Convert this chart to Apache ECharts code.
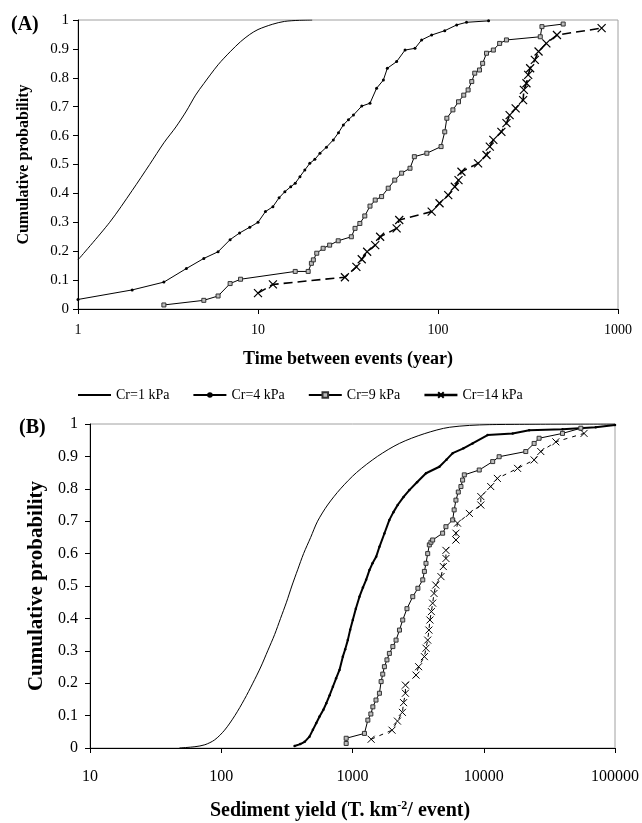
<!DOCTYPE html>
<html>
<head>
<meta charset="utf-8">
<script src="https://cdn.jsdelivr.net/npm/echarts@6/dist/echarts.min.js"></script>
<style>
html,body{margin:0;padding:0;background:#fff;}
#c{width:642px;height:823px;}
</style>
</head>
<body>
<div id="c"></div>
<script>
// ---------- Data (A): Time between events (year) ----------
const seriesNames = ['Cr=1 kPa', 'Cr=4 kPa', 'Cr=9 kPa', 'Cr=14 kPa'];
const yTicks = ['0','0.1','0.2','0.3','0.4','0.5','0.6','0.7','0.8','0.9','1'];

const a1x = [1, 1.5, 2, 2.5, 3, 3.5, 4, 4.5, 5, 6, 7, 8, 9, 10, 12, 14, 17, 20];
const a1y = [0.17, 0.30, 0.41, 0.50, 0.575, 0.63, 0.685, 0.74, 0.78, 0.845, 0.89, 0.925, 0.95, 0.967, 0.985, 0.995, 0.999, 1.0];

const a4x = [1, 2, 3, 4, 5, 6, 7, 7.9, 9, 10, 11, 12.1, 13.1, 14.1, 15.2, 16.1, 17.1, 18.2, 19.4, 20.7, 22.1, 24, 26.2, 28, 29.8, 31.8, 33.9, 37.7, 41.9, 45.6, 49.7, 52.3, 58.9, 65.6, 74.5, 81.1, 92.2, 109, 127, 144, 191];
const a4y = [0.033, 0.066, 0.093, 0.14, 0.175, 0.198, 0.24, 0.263, 0.283, 0.3, 0.337, 0.354, 0.385, 0.406, 0.423, 0.435, 0.458, 0.481, 0.504, 0.518, 0.539, 0.56, 0.585, 0.61, 0.637, 0.655, 0.671, 0.702, 0.712, 0.764, 0.792, 0.833, 0.856, 0.896, 0.902, 0.931, 0.948, 0.963, 0.983, 0.992, 0.997];

const a9x = [3, 5, 6, 7, 8, 16.1, 19, 19.8, 20.3, 21.2, 23, 25, 27.9, 33, 34.6, 36.8, 39.2, 41.9, 44.8, 48.6, 52.9, 57.5, 62.8, 69.9, 73.9, 86.7, 104, 109, 112, 121, 130, 139, 147, 154, 160, 170, 177, 186, 203, 220, 240, 370, 378, 496];
const a9y = [0.014, 0.03, 0.045, 0.088, 0.103, 0.13, 0.13, 0.158, 0.17, 0.193, 0.21, 0.221, 0.236, 0.25, 0.279, 0.296, 0.322, 0.356, 0.377, 0.389, 0.418, 0.446, 0.47, 0.487, 0.527, 0.539, 0.562, 0.613, 0.66, 0.689, 0.717, 0.74, 0.758, 0.787, 0.816, 0.827, 0.85, 0.885, 0.896, 0.919, 0.931, 0.942, 0.977, 0.986];

const a14x = [10, 12.1, 30.4, 35.2, 37.7, 40.4, 44.8, 47.7, 58.9, 60.9, 92.2, 102, 114, 124, 130, 135, 167, 186, 194, 203, 225, 240, 250, 270, 297, 300, 310, 317, 325, 345, 362, 400, 458, 811];
const a14y = [0.055, 0.085, 0.11, 0.146, 0.172, 0.198, 0.221, 0.25, 0.279, 0.308, 0.337, 0.366, 0.394, 0.423, 0.446, 0.475, 0.504, 0.533, 0.562, 0.585, 0.613, 0.643, 0.671, 0.694, 0.723, 0.758, 0.781, 0.81, 0.833, 0.862, 0.891, 0.919, 0.948, 0.972];

// ---------- Data (B): Sediment yield (T km-2 / event) ----------
const b1x = [48, 63, 75, 89, 106, 127, 150, 174, 200, 226, 255, 283, 314, 345, 382, 424, 480, 542, 646, 810, 1072, 1549, 2275, 3520, 5500, 11000, 100000];
const b1y = [0, 0.004, 0.01, 0.025, 0.055, 0.1, 0.15, 0.2, 0.25, 0.3, 0.35, 0.4, 0.45, 0.5, 0.55, 0.6, 0.65, 0.7, 0.75, 0.8, 0.85, 0.9, 0.94, 0.97, 0.99, 0.998, 1.0];

const b4x = [362, 400, 432, 470, 499, 530, 561, 600, 631, 670, 709, 750, 796, 844, 880, 921, 960, 1005, 1060, 1130, 1200, 1270, 1346, 1420, 1514, 1604, 1750, 1910, 2050, 2209, 2450, 2711, 3100, 3630, 4590, 5200, 5800, 7000, 8220, 10700, 16600, 22200, 39800, 71300, 100000];
const b4y = [0.006, 0.012, 0.019, 0.035, 0.056, 0.077, 0.097, 0.118, 0.138, 0.163, 0.189, 0.215, 0.241, 0.282, 0.305, 0.333, 0.365, 0.395, 0.43, 0.467, 0.495, 0.519, 0.549, 0.57, 0.59, 0.621, 0.662, 0.704, 0.728, 0.75, 0.775, 0.796, 0.82, 0.848, 0.868, 0.89, 0.91, 0.925, 0.94, 0.966, 0.971, 0.981, 0.984, 0.99, 0.997];

const b9x = [895, 895, 1233, 1309, 1380, 1429, 1510, 1604, 1652, 1700, 1750, 1830, 1910, 2030, 2147, 2280, 2414, 2600, 2878, 3150, 3430, 3530, 3630, 3740, 3850, 3960, 4080, 4860, 5150, 5800, 5950, 6140, 6400, 6700, 6900, 7110, 9240, 11700, 13100, 20900, 24200, 26400, 39800, 54900];
const b9y = [0.014, 0.03, 0.045, 0.086, 0.105, 0.127, 0.148, 0.169, 0.205, 0.228, 0.251, 0.272, 0.292, 0.313, 0.333, 0.364, 0.395, 0.43, 0.467, 0.493, 0.519, 0.545, 0.57, 0.6, 0.627, 0.635, 0.642, 0.663, 0.683, 0.704, 0.735, 0.765, 0.79, 0.807, 0.827, 0.843, 0.858, 0.884, 0.899, 0.915, 0.94, 0.956, 0.971, 0.987];

const b14x = [1387, 2000, 2200, 2400, 2450, 2530, 2530, 3048, 3190, 3530, 3630, 3740, 3820, 3890, 3990, 4080, 4180, 4310, 4720, 4920, 5150, 5150, 6140, 6140, 6310, 7770, 9500, 9500, 11300, 12700, 18100, 24200, 27200, 35400, 58100];
const b14y = [0.027, 0.055, 0.083, 0.11, 0.14, 0.169, 0.194, 0.225, 0.251, 0.282, 0.308, 0.333, 0.364, 0.395, 0.421, 0.447, 0.477, 0.503, 0.529, 0.56, 0.585, 0.61, 0.642, 0.663, 0.694, 0.724, 0.75, 0.776, 0.807, 0.832, 0.863, 0.889, 0.915, 0.945, 0.971];

function pairs(xs, ys) { return xs.map((x, i) => [x, ys[i]]); }

const FONT = 'Liberation Serif';
const CROSS = 'path://M0,0L10,10M10,0L0,10';

const chart = echarts.init(document.getElementById('c'), null, {renderer: 'canvas'});

function yAxis(gridIndex, name, nameSize, nameGap, labelSize, labelMargin) {
  return {
    gridIndex: gridIndex, type: 'value', min: 0, max: 1, interval: 0.1,
    name: name, nameLocation: 'middle', nameGap: nameGap,
    nameTextStyle: {fontFamily: FONT, fontWeight: 'bold', fontSize: nameSize, color: '#000'},
    axisLine: {show: true, lineStyle: {color: '#000', width: 1}},
    axisTick: {show: true, length: 5, lineStyle: {color: '#000'}},
    axisLabel: {fontFamily: FONT, fontSize: labelSize, color: '#000', margin: labelMargin,
      formatter: v => yTicks[Math.round(v * 10)]},
    splitLine: {show: false}
  };
}
function xAxis(gridIndex, min, max, name, nameSize, nameGap, labelSize, labelMargin) {
  return {
    gridIndex: gridIndex, type: 'log', logBase: 10, min: min, max: max,
    name: name, nameLocation: 'middle', nameGap: nameGap,
    nameTextStyle: {fontFamily: FONT, fontWeight: 'bold', fontSize: nameSize, color: '#000'},
    axisLine: {show: true, lineStyle: {color: '#000', width: 1}},
    axisTick: {show: true, length: 5, lineStyle: {color: '#000'}},
    minorTick: {show: false},
    axisLabel: {fontFamily: FONT, fontSize: labelSize, color: '#000', margin: labelMargin,
      formatter: v => String(Math.round(v))},
    splitLine: {show: false}
  };
}

const option = {
  animation: false,
  backgroundColor: '#fff',
  title: [
    {text: '(A)', left: 6, top: 10, textStyle: {fontFamily: FONT, fontWeight: 'bold', fontSize: 20, color: '#000'}},
    {text: '(B)', left: 14, top: 413, textStyle: {fontFamily: FONT, fontWeight: 'bold', fontSize: 20, color: '#000'}}
  ],
  legend: {
    left: 77, top: 388, padding: 0, itemGap: 23, itemWidth: 33, itemHeight: 7,
    textStyle: {fontFamily: FONT, fontSize: 14, color: '#000'},
    data: [
      {name: seriesNames[0], itemStyle: {opacity: 0}},
      {name: seriesNames[1]},
      {name: seriesNames[2]},
      {name: seriesNames[3], lineStyle: {type: 'solid', width: 2.5}}
    ]
  },
  graphic: [
    {type: 'text', x: 340, y: 811, z: 10,
      style: {
        text: 'Sediment yield (T. km{sup|-2}/ event)',
        align: 'center', verticalAlign: 'middle',
        font: 'bold 20px "Liberation Serif"', fill: '#000',
        rich: {sup: {font: 'bold 12px "Liberation Serif"', fill: '#000', verticalAlign: 'top', padding: [0, 0, 10, 0]}}
      }}
  ],
  grid: [
    {left: 78, top: 20, width: 540, height: 289, show: true, borderColor: '#a0a0a0', borderWidth: 1, backgroundColor: '#fff'},
    {left: 90, top: 424, width: 526, height: 324, show: true, borderColor: '#a0a0a0', borderWidth: 1, backgroundColor: '#fff'}
  ],
  xAxis: [
    xAxis(0, 1, 1000, 'Time between events (year)', 18, 41, 14, 14),
    xAxis(1, 10, 100000, '', 18, 60, 16, 21)
  ],
  yAxis: [
    yAxis(0, 'Cumulative probability', 16, 46, 15, 9),
    yAxis(1, 'Cumulative probability', 21, 43, 16, 12)
  ],
  series: [
    {name: seriesNames[0], type: 'line', xAxisIndex: 0, yAxisIndex: 0, data: pairs(a1x, a1y),
      smooth: 0.3, symbol: 'none', lineStyle: {color: '#000', width: 1}, itemStyle: {color: '#000'}},
    {name: seriesNames[1], type: 'line', xAxisIndex: 0, yAxisIndex: 0, data: pairs(a4x, a4y),
      symbol: 'circle', symbolSize: 3, lineStyle: {color: '#000', width: 1}, itemStyle: {color: '#000'}},
    {name: seriesNames[2], type: 'line', xAxisIndex: 0, yAxisIndex: 0, data: pairs(a9x, a9y),
      symbol: 'rect', symbolSize: 4, lineStyle: {color: '#000', width: 1},
      itemStyle: {color: '#bdbdbd', borderColor: '#333', borderWidth: 1}},
    {name: seriesNames[3], type: 'line', xAxisIndex: 0, yAxisIndex: 0, data: pairs(a14x, a14y),
      symbol: CROSS, symbolSize: 8, lineStyle: {color: '#000', width: 1.6, type: [9, 5]},
      itemStyle: {color: 'none', borderColor: '#000', borderWidth: 1.2}},

    {name: seriesNames[0], type: 'line', xAxisIndex: 1, yAxisIndex: 1, data: pairs(b1x, b1y),
      smooth: 0.3, symbol: 'none', lineStyle: {color: '#000', width: 1}, itemStyle: {color: '#000'}},
    {name: seriesNames[1], type: 'line', xAxisIndex: 1, yAxisIndex: 1, data: pairs(b4x, b4y),
      symbol: 'circle', symbolSize: 2.5, lineStyle: {color: '#000', width: 2}, itemStyle: {color: '#000'}},
    {name: seriesNames[2], type: 'line', xAxisIndex: 1, yAxisIndex: 1, data: pairs(b9x, b9y),
      symbol: 'rect', symbolSize: 4, lineStyle: {color: '#000', width: 1},
      itemStyle: {color: '#bdbdbd', borderColor: '#333', borderWidth: 1}},
    {name: seriesNames[3], type: 'line', xAxisIndex: 1, yAxisIndex: 1, data: pairs(b14x, b14y),
      symbol: CROSS, symbolSize: 7, lineStyle: {color: '#000', width: 1, type: [4, 5]},
      itemStyle: {color: 'none', borderColor: '#000', borderWidth: 1}}
  ]
};
chart.setOption(option);
</script>
</body>
</html>
